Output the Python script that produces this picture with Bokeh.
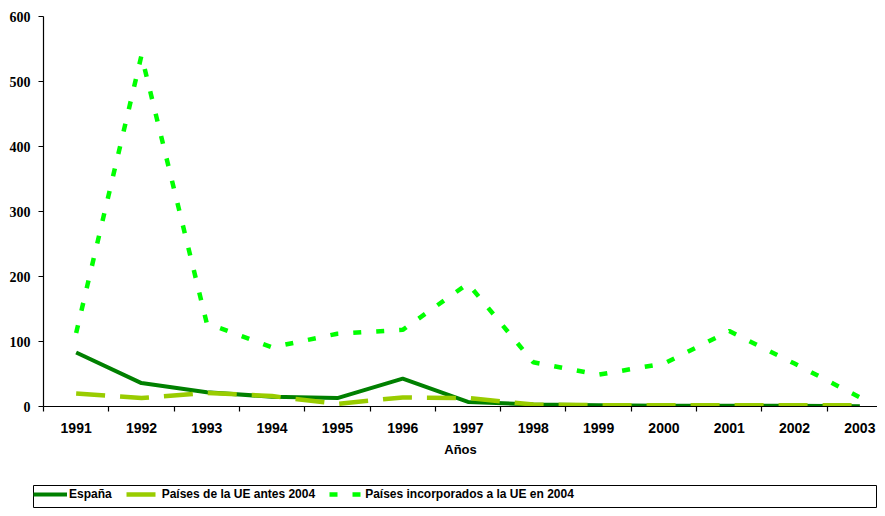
from bokeh.plotting import figure
from bokeh.models import Range1d, FixedTicker, Legend, LegendItem, ColumnDataSource
from bokeh.layouts import column
from bokeh.embed import file_html
from bokeh.resources import INLINE

years = ["1991", "1992", "1993", "1994", "1995", "1996", "1997",
         "1998", "1999", "2000", "2001", "2002", "2003"]
espana = [83, 36, 22, 15, 13, 43, 7, 3, 2, 1, 1, 1, 0.5]
ue_antes = [20, 13, 21, 16, 4, 14, 13, 3, 2, 2, 2, 2, 2]
ue_2004 = [113, 540, 128, 91, 112, 118, 189, 68, 49, 66, 116, 66, 14]
y_ticks = [0, 100, 200, 300, 400, 500, 600]
series_names = ["España", "Países de la UE antes 2004", "Países incorporados a la UE en 2004"]

xs = list(range(len(years)))
src = ColumnDataSource(dict(x=xs, espana=espana, ue_antes=ue_antes, ue_2004=ue_2004))

C_ES, C_ANT, C_NEW = "#008000", "#99CC00", "#00FF00"
DASH_ANT, DASH_NEW = "29 15", "8 15"

p = figure(width=877, height=470, output_backend="svg", toolbar_location=None,
           x_range=Range1d(-0.5, 12.27), y_range=Range1d(0, 600),
           min_border_left=43, min_border_right=0, min_border_top=16, min_border_bottom=64)
p.outline_line_color = None
p.grid.visible = False
p.background_fill_color = "white"
p.border_fill_color = "white"

p.line('x', 'ue_2004', source=src, line_color=C_NEW, line_width=4.5, line_dash=DASH_NEW)
p.line('x', 'espana', source=src, line_color=C_ES, line_width=4)
p.line('x', 'ue_antes', source=src, line_color=C_ANT, line_width=4.5, line_dash=DASH_ANT)

xa = p.xaxis[0]
xa.ticker = FixedTicker(ticks=xs, minor_ticks=[i - 0.5 for i in range(len(years) + 1)])
xa.major_label_overrides = {i: y for i, y in enumerate(years)}
xa.major_tick_line_color = None
xa.major_tick_out = 0
xa.major_tick_in = 0
xa.minor_tick_line_color = "black"
xa.minor_tick_out = 5
xa.minor_tick_in = 0
xa.minor_tick_line_width = 1.2
xa.axis_line_color = "black"
xa.axis_line_width = 1.2
xa.major_label_text_font = "Liberation Sans"
xa.major_label_text_font_style = "bold"
xa.major_label_text_font_size = "14px"
xa.major_label_text_color = "black"
xa.major_label_standoff = 11
xa.axis_label = "Años"
xa.axis_label_text_font = "Liberation Sans"
xa.axis_label_text_font_style = "bold"
xa.axis_label_text_font_size = "13px"
xa.axis_label_text_color = "black"
xa.axis_label_standoff = 6

ya = p.yaxis[0]
ya.ticker = FixedTicker(ticks=y_ticks, minor_ticks=[])
ya.major_tick_out = 5
ya.major_tick_in = 0
ya.major_tick_line_color = "black"
ya.major_tick_line_width = 1.2
ya.minor_tick_line_color = None
ya.axis_line_color = "black"
ya.axis_line_width = 1.2
ya.major_label_text_font = "Liberation Serif"
ya.major_label_text_font_style = "bold"
ya.major_label_text_font_size = "14px"
ya.major_label_text_color = "black"
ya.major_label_standoff = 8

# Legend strip below the chart (its renderers are hidden; only the legend shows)
lg = figure(width=877, height=38, output_backend="svg", toolbar_location=None,
            x_range=Range1d(-0.5, 12.27), y_range=Range1d(0, 600),
            min_border_left=33, min_border_right=0, min_border_top=15, min_border_bottom=0)
lg.axis.visible = False
lg.grid.visible = False
lg.outline_line_color = "black"
lg.outline_line_width = 1
lg.border_fill_color = "white"
lg.background_fill_color = "white"
k1 = lg.line('x', 'espana', source=src, line_color=C_ES, line_width=4, visible=False)
k2 = lg.line('x', 'ue_antes', source=src, line_color=C_ANT, line_width=4.5,
             line_dash=DASH_ANT, visible=False)
k3 = lg.line('x', 'ue_2004', source=src, line_color=C_NEW, line_width=4.5,
             line_dash=DASH_NEW, visible=False)

legend = Legend(items=[
    LegendItem(label=series_names[0], renderers=[k1]),
    LegendItem(label=series_names[1], renderers=[k2]),
    LegendItem(label=series_names[2], renderers=[k3]),
], orientation="horizontal", location="top_left", click_policy="none")
legend.label_text_font = "Liberation Sans"
legend.label_text_font_style = "bold"
legend.label_text_font_size = "12px"
legend.label_text_color = "black"
legend.glyph_width = 34
legend.glyph_height = 18
legend.label_standoff = 2
legend.spacing = 14
legend.padding = 6
legend.margin = 0
legend.border_line_color = None
legend.background_fill_alpha = 0
legend.inactive_fill_alpha = 0
lg.add_layout(legend, "center")

layout = column(p, column(lg), spacing=0)
open("out.html", "w").write(file_html(layout, INLINE))
